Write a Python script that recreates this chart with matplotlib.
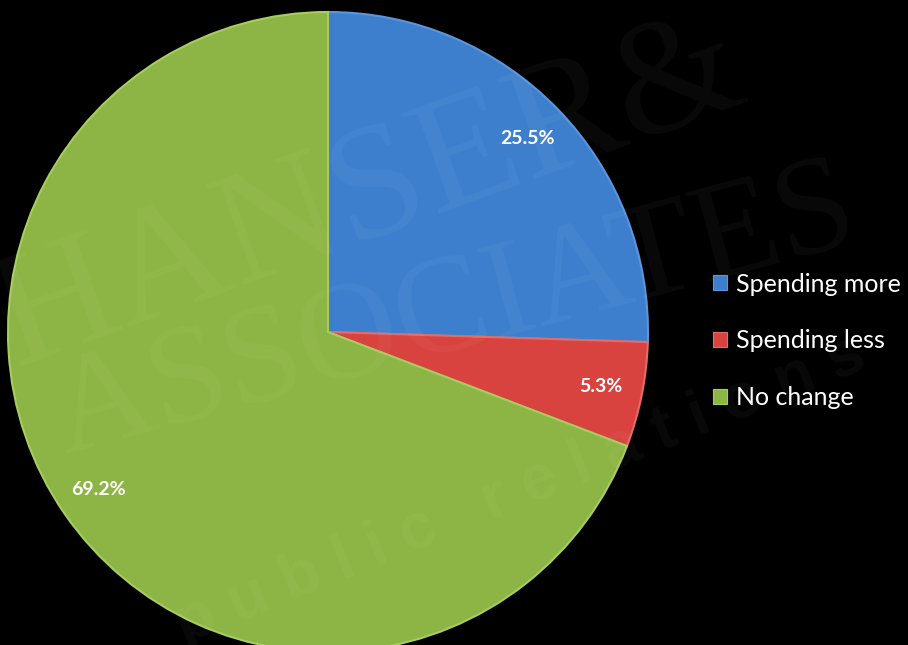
import matplotlib.pyplot as plt
from matplotlib.patches import Patch

categories = ["Spending more", "Spending less", "No change"]
shares = [25.5, 5.3, 69.2]
colors = ["#3e7fcd", "#d84340", "#8db545"]
edge_colors = ["#5b95dc", "#e86a66", "#a7cc62"]

plt.rcParams['font.family'] = ['Lato', 'DejaVu Sans']

fig = plt.figure(figsize=(9.08, 6.45), dpi=100, facecolor="black")
ax = fig.add_axes([0, 0, 1, 1])
ax.set_facecolor("black")

wedges, _, autotexts = ax.pie(
    shares, colors=colors, startangle=90, counterclock=False,
    radius=320, center=(328, 645 - 332),
    autopct="%.1f%%", pctdistance=0.87,
    wedgeprops=dict(linewidth=1.5),
    textprops=dict(color="white", fontsize=14, fontweight="bold"),
)
for w, ec in zip(wedges, edge_colors):
    w.set_edgecolor(ec)
    w.set_zorder(1)
for t in autotexts:
    t.set_zorder(4)

# faint watermark laid over the pie
wm = dict(color="white", alpha=0.04, ha="center", va="center", zorder=2,
          family="Liberation Serif")
ax.text(370, 645 - 195, "HANSER&", fontsize=118, rotation=20, **wm)
ax.text(455, 645 - 315, "ASSOCIATES", fontsize=100, rotation=15, **wm)
ax.text(520, 645 - 490, "p u b l i c   r e l a t i o n s", fontsize=46, rotation=22,
        fontweight="bold", **{**wm, "family": "Liberation Sans"})

# pie() resets the limits, so set the pixel frame afterwards
ax.set_xlim(0, 908)
ax.set_ylim(0, 645)
ax.set_aspect("equal")
ax.axis("off")

handles = [Patch(facecolor=c, edgecolor=ec, linewidth=0.8) for c, ec in zip(colors, edge_colors)]
leg = fig.legend(handles, categories, loc="center left", bbox_to_anchor=(713 / 908, 1 - 341 / 645),
                 frameon=False, fontsize=18, labelcolor="white", handlelength=0.55,
                 handleheight=0.55, handletextpad=0.35, labelspacing=1.35,
                 borderpad=0, borderaxespad=0)

fig.savefig("out.png", dpi=100, facecolor="black")
